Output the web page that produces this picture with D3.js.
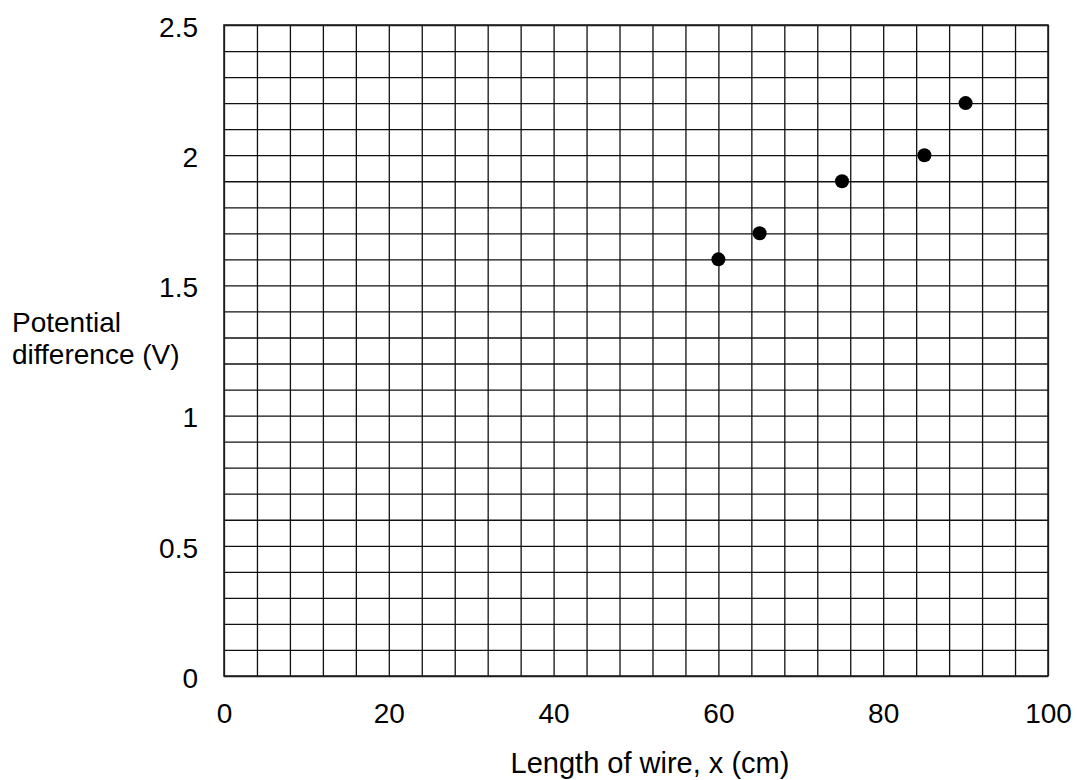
<!DOCTYPE html>
<html>
<head>
<meta charset="utf-8">
<script src="https://cdn.jsdelivr.net/npm/d3@7"></script>
<style>
  body { margin: 0; background: #fff; }
  svg { display: block; font-family: "Liberation Sans", Arial, sans-serif; }
  .grid line { stroke: #111; stroke-width: 1.3; }
  .grid path { display: none; }
  .tick-labels path, .tick-labels line { display: none; }
  .tick-labels text { font-size: 28px; fill: #000; }
  .axis-title { font-size: 28px; fill: #000; }
</style>
</head>
<body>
<svg id="chart" width="1077" height="780"></svg>
<script>
const lengthsCm = [60, 65, 75, 85, 90];
const voltages = [1.6, 1.7, 1.9, 2.0, 2.2];
const xTickLabels = [0, 20, 40, 60, 80, 100];
const yTickLabels = [0, 0.5, 1, 1.5, 2, 2.5];
const xGridStep = 4;
const yGridStep = 0.1;

const svg = d3.select("#chart");
const margin = { top: 25, right: 29, bottom: 104, left: 224 };
const width = 1077;
const height = 780;

const x = d3.scaleLinear().domain([0, 100]).range([margin.left, width - margin.right]);
const y = d3.scaleLinear().domain([0, 2.5]).range([height - margin.bottom, margin.top]);

const xGrid = d3.range(0, 100 + 0.001, xGridStep);
const yGrid = d3.range(0, 25 + 1).map((i) => +(i * yGridStep).toFixed(1));

// grid lines
svg.append("g")
  .attr("class", "grid")
  .attr("transform", `translate(0, ${y(0)})`)
  .call(d3.axisBottom(x).tickValues(xGrid).tickSize(-(y(0) - y(2.5))).tickFormat(""));

svg.append("g")
  .attr("class", "grid")
  .attr("transform", `translate(${x(0)}, 0)`)
  .call(d3.axisLeft(y).tickValues(yGrid).tickSize(-(x(100) - x(0))).tickFormat(""));

// frame
svg.append("rect")
  .attr("x", x(0))
  .attr("y", y(2.5))
  .attr("width", x(100) - x(0))
  .attr("height", y(0) - y(2.5))
  .attr("fill", "none")
  .attr("stroke", "#222")
  .attr("stroke-width", 1.6);

// tick labels
svg.append("g")
  .attr("class", "tick-labels")
  .attr("transform", `translate(0, ${y(0)})`)
  .call(d3.axisBottom(x).tickValues(xTickLabels).tickSize(0).tickPadding(27).tickFormat(d3.format("d")));

svg.append("g")
  .attr("class", "tick-labels")
  .attr("transform", `translate(${x(0)}, 0)`)
  .call(d3.axisLeft(y).tickValues(yTickLabels).tickSize(0).tickPadding(26).tickFormat((d) => String(d)))
  .selectAll("text")
  .attr("dy", "0.4em");

// axis titles
svg.append("text")
  .attr("class", "axis-title")
  .attr("x", 650)
  .attr("y", 773)
  .attr("text-anchor", "middle")
  .style("font-size", "29px")
  .text("Length of wire, x (cm)");

const yTitle = svg.append("text")
  .attr("class", "axis-title")
  .attr("x", 12)
  .attr("y", 332);
yTitle.append("tspan").attr("x", 12).text("Potential");
yTitle.append("tspan").attr("x", 12).attr("dy", 32).text("difference (V)");

// points
svg.append("g")
  .selectAll("circle")
  .data(lengthsCm.map((len, i) => ({ len, v: voltages[i] })))
  .join("circle")
  .attr("cx", (d) => x(d.len))
  .attr("cy", (d) => y(d.v))
  .attr("r", 7)
  .attr("fill", "#000");
</script>
</body>
</html>
